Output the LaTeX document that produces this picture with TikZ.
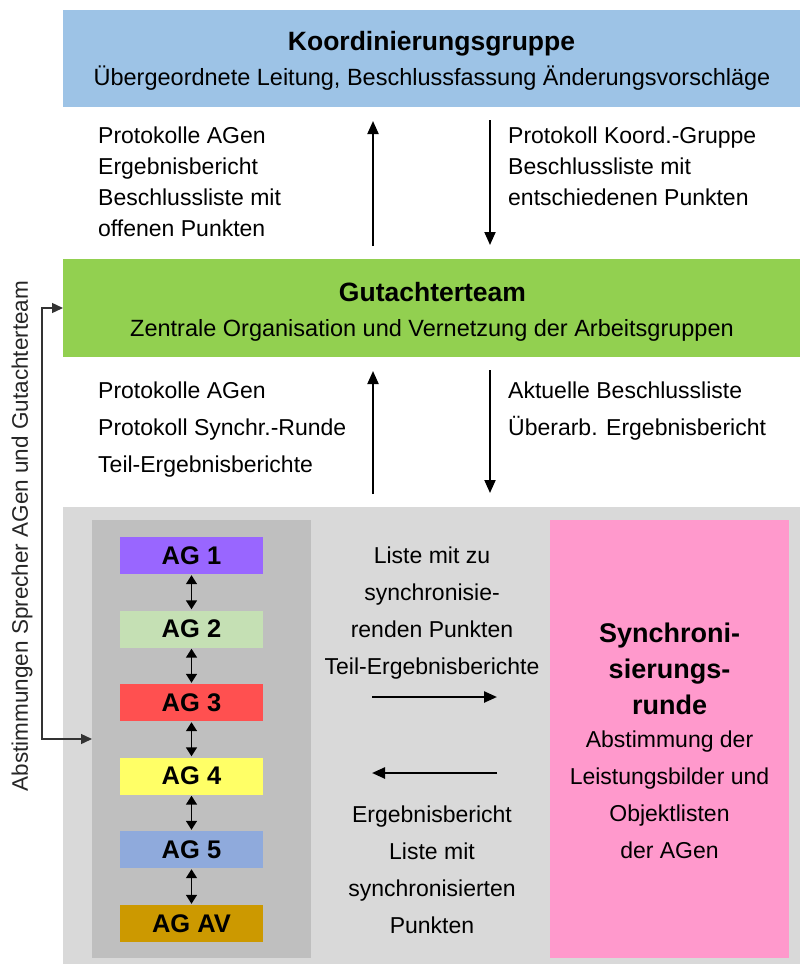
\documentclass[tikz,border=0pt]{standalone}
\usepackage{fontspec}
\setmainfont{Liberation Sans}
\usetikzlibrary{arrows.meta}

\definecolor{koordblue}{HTML}{9DC3E6}
\definecolor{gutgreen}{HTML}{92D050}
\definecolor{lowergray}{HTML}{D9D9D9}
\definecolor{colgray}{HTML}{BFBFBF}
\definecolor{syncpink}{HTML}{FF99CC}
\definecolor{agone}{HTML}{9966FF}
\definecolor{agtwo}{HTML}{C5E0B4}
\definecolor{agthree}{HTML}{FF5050}
\definecolor{agfour}{HTML}{FFFF66}
\definecolor{agfive}{HTML}{8FAADC}
\definecolor{agav}{HTML}{CC9900}

\begin{document}
\begin{tikzpicture}[x=1pt, y=-1pt,
    area/.style={inner sep=0pt, outer sep=0pt},
    titletext/.style={anchor=base, font=\bfseries\fontsize{26.5}{36}\selectfont},
    subtext/.style={anchor=base, font=\fontsize{23.5}{31}\selectfont},
    infotext/.style={anchor=north west, align=left, inner sep=0pt, font=\fontsize{23}{31}\selectfont},
    infowide/.style={infotext, font=\fontsize{23}{37}\selectfont},
    midtext/.style={anchor=north, align=center, inner sep=0pt, font=\fontsize{23}{37}\selectfont},
    flow/.style={line width=2pt, -{Triangle[length=13pt,width=11pt]}, shorten <=13pt, shorten >=14pt},
    midflow/.style={line width=2.4pt, -{Triangle[length=13pt,width=11pt]}},
    agbox/.style={minimum width=143pt, minimum height=37pt, inner sep=0pt, font=\bfseries\fontsize{25.5}{30}\selectfont},
    agflow/.style={line width=1.5pt, {Triangle[length=9pt,width=11pt]}-{Triangle[length=9pt,width=11pt]}, shorten <=1pt, shorten >=1pt},
    feedback/.style={line width=1.4pt, draw=black!80, {Triangle[length=11pt,width=10pt]}-{Triangle[length=11pt,width=10pt]}}
  ]
  \useasboundingbox (0,0) rectangle (800,964);

  % areas
  \node[area, fill=koordblue, minimum width=737pt, minimum height=97pt] (koord) at (431.5,58.5) {};
  \node[area, fill=gutgreen, minimum width=737pt, minimum height=98pt] (gut) at (431.5,308) {};
  \node[area, fill=lowergray, minimum width=737pt, minimum height=457pt] (lower) at (431.5,735.5) {};
  \node[area, fill=colgray, minimum width=219pt, minimum height=438pt] (agcol) at (201.5,739) {};
  \node[area, fill=syncpink, minimum width=239pt, minimum height=438pt] (sync) at (669.5,739) {};

  % titles
  \node[titletext] (koordtitle) at (431.5,50) {Koordinierungsgruppe};
  \node[subtext] (koordsub) at (432,85) {Übergeordnete Leitung, Beschlussfassung Änderungsvorschläge};
  \node[titletext] (guttitle) at (432.5,301) {Gutachterteam};
  \node[subtext] (gutsub) at (432,336) {Zentrale Organisation und Vernetzung der Arbeitsgruppen};

  % between koordinierungsgruppe and gutachterteam
  \node[infotext] (upinfo) at (98,127) {Protokolle AGen\\Ergebnisbericht\\Beschlussliste mit\\offenen Punkten};
  \node[infotext] (downinfo) at (508,127) {Protokoll Koord.-Gruppe\\Beschlussliste mit\\entschiedenen Punkten};
  \draw[flow] ([xshift=-58.5pt]gut.north) -- ([xshift=-58.5pt]koord.south);
  \draw[flow] ([xshift=58.5pt]koord.south) -- ([xshift=58.5pt]gut.north);

  % between gutachterteam and arbeitsgruppen
  \node[infowide] (upinfo2) at (98,382) {Protokolle AGen\\Protokoll Synchr.-Runde\\Teil-Ergebnisberichte};
  \node[infowide] (downinfo2) at (508,382) {Aktuelle Beschlussliste\\Überarb. Ergebnisbericht};
  \draw[flow] ([xshift=-58.5pt]lower.north) -- ([xshift=-58.5pt]gut.south);
  \draw[flow] ([xshift=58.5pt]gut.south) -- ([xshift=58.5pt]lower.north);

  % arbeitsgruppen
  \node[agbox, fill=agone] (ag1) at (191.5,555.5) {AG 1};
  \node[agbox, fill=agtwo] (ag2) at (191.5,629) {AG 2};
  \node[agbox, fill=agthree] (ag3) at (191.5,702.5) {AG 3};
  \node[agbox, fill=agfour] (ag4) at (191.5,776) {AG 4};
  \node[agbox, fill=agfive] (ag5) at (191.5,849.5) {AG 5};
  \node[agbox, fill=agav] (ag6) at (191.5,923.5) {AG AV};
  \foreach \i [evaluate=\i as \j using int(\i+1)] in {1,...,5}
    \draw[agflow] (ag\i.south) -- (ag\j.north);

  % synchronisierungsrunde
  \node[midtext, font=\bfseries\fontsize{27}{36}\selectfont] (synctitle) at (669.5,623) {Synchroni-\\sierungs-\\runde};
  \node[midtext] (synctext) at (669.5,731) {Abstimmung der\\Leistungsbilder und\\Objektlisten\\der AGen};

  \node[midtext] (toinfo) at (432,547) {Liste mit zu\\synchronisie-\\renden Punkten\\Teil-Ergebnisberichte};
  \node[midtext] (backinfo) at (432,806) {Ergebnisbericht\\Liste mit\\synchronisierten\\Punkten};
  \draw[midflow, shorten <=61pt, shorten >=53pt] ([yshift=42pt]agcol.east) -- ([yshift=42pt]sync.west);
  \draw[midflow, shorten <=53pt, shorten >=61pt] ([yshift=-34pt]sync.west) -- ([yshift=-34pt]agcol.east);

  % abstimmungen
  \coordinate (fb) at (42,520);
  \draw[feedback] (gut.west) -| (fb) |- (agcol.west);
  \node[rotate=90, font=\fontsize{22.5}{27}\selectfont, text=black!85] (fbtext) at (22,536) {Abstimmungen Sprecher AGen und Gutachterteam};
\end{tikzpicture}
\end{document}
